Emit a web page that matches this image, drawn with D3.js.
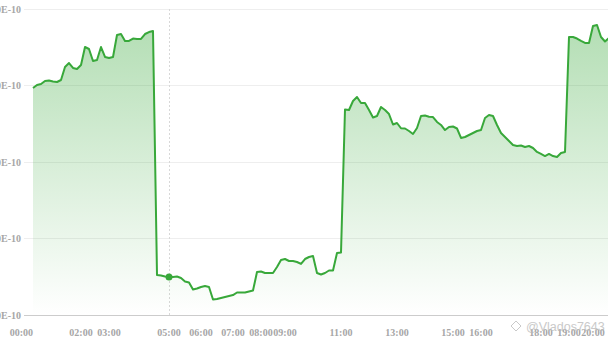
<!DOCTYPE html>
<html>
<head>
<meta charset="utf-8">
<script src="https://cdn.jsdelivr.net/npm/d3@7"></script>
<style>
  body { margin: 0; background: #fff; }
  svg { display: block; }
</style>
</head>
<body>
<svg id="chart" width="608" height="342"></svg>
<script>
// values in units of 1E-10, one sample per category
const values = [
  1.2967, 1.3007, 1.3020, 1.3059, 1.3065, 1.3052, 1.3046, 1.3072, 1.3242, 1.3294,
  1.3229, 1.3216, 1.3268, 1.3503, 1.3477, 1.3320, 1.3333, 1.3503, 1.3373, 1.3359,
  1.3373, 1.3660, 1.3673, 1.3582, 1.3582, 1.3614, 1.3608, 1.3608, 1.3673, 1.3699,
  1.3712, 1.0523, 1.0516, 1.0503, 1.0497, 1.0497, 1.0503, 1.0484, 1.0438, 1.0425,
  1.0333, 1.0346, 1.0366, 1.0379, 1.0366, 1.0203, 1.0209, 1.0222, 1.0235, 1.0248,
  1.0261, 1.0294, 1.0294, 1.0294, 1.0307, 1.0320, 1.0562, 1.0569, 1.0549, 1.0549,
  1.0549, 1.0627, 1.0719, 1.0732, 1.0706, 1.0706, 1.0693, 1.0667, 1.0732, 1.0758,
  1.0771, 1.0549, 1.0529, 1.0549, 1.0582, 1.0582, 1.0810, 1.0817, 1.2686, 1.2680,
  1.2797, 1.2850, 1.2771, 1.2771, 1.2680, 1.2582, 1.2601, 1.2719, 1.2680, 1.2627,
  1.2490, 1.2510, 1.2441, 1.2438, 1.2405, 1.2366, 1.2444, 1.2601, 1.2608, 1.2592,
  1.2588, 1.2523, 1.2484, 1.2418, 1.2458, 1.2464, 1.2438, 1.2314, 1.2327, 1.2353,
  1.2379, 1.2405, 1.2418, 1.2575, 1.2614, 1.2601, 1.2484, 1.2379, 1.2327, 1.2275,
  1.2222, 1.2209, 1.2216, 1.2196, 1.2209, 1.2183, 1.2131, 1.2105, 1.2078, 1.2105,
  1.2078, 1.2065, 1.2118, 1.2131, 1.3634, 1.3634, 1.3614, 1.3582, 1.3556, 1.3556,
  1.3778, 1.3791, 1.3634, 1.3575, 1.3621, 1.3647
];

// x axis labels and the sample they sit under
const tickLabels = ['00:00', '02:00', '03:00', '05:00', '06:00', '07:00', '08:00', '09:00',
  '11:00', '13:00', '15:00', '16:00', '18:00', '19:00', '20:00'];
const tickIndex = [0, 12, 19, 34, 42, 50, 57, 63, 77, 91, 105, 112, 127, 134, 140];

const yTicks = [1.0, 1.1, 1.2, 1.3, 1.4];
const hoverIndex = 34;

const svg = d3.select('#chart');
const green = '#38a83a';
const gridLeft = 24, gridRight = 608, plotTop = 9, plotBottom = 315;

const x = d3.scaleLinear().domain([0, values.length - 1]).range([33, 613]);
const y = d3.scaleLinear().domain([1.0, 1.4]).range([plotBottom, plotTop]);

// gradient for the area
const defs = svg.append('defs');
const grad = defs.append('linearGradient')
  .attr('id', 'areaGrad')
  .attr('gradientUnits', 'userSpaceOnUse')
  .attr('x1', 0).attr('x2', 0)
  .attr('y1', plotTop).attr('y2', plotBottom);
grad.append('stop').attr('offset', '0%').attr('stop-color', green).attr('stop-opacity', 0.4);
grad.append('stop').attr('offset', '100%').attr('stop-color', green).attr('stop-opacity', 0.0);

// horizontal grid lines + y labels
const yAxis = svg.append('g');
yAxis.selectAll('line').data(yTicks).join('line')
  .attr('x1', gridLeft).attr('x2', gridRight)
  .attr('y1', d => y(d)).attr('y2', d => y(d))
  .attr('stroke', d => d == 1.0 ? '#cccccc' : '#eeeeee')
  .attr('stroke-width', 1)
  .attr('shape-rendering', 'crispEdges');
yAxis.selectAll('text').data(yTicks).join('text')
  .attr('x', 21)
  .attr('y', d => y(d))
  .attr('dy', '0.35em')
  .attr('text-anchor', 'end')
  .attr('font-family', '"Liberation Serif", serif')
  .attr('font-weight', 'bold')
  .attr('font-size', 10)
  .attr('fill', '#a6a6a6')
  .text(d => d.toFixed(2) + 'E-10');

// hover pointer line
svg.append('line')
  .attr('x1', x(hoverIndex)).attr('x2', x(hoverIndex))
  .attr('y1', plotTop).attr('y2', plotBottom)
  .attr('stroke', '#d8d8d8')
  .attr('stroke-dasharray', '2,2')
  .attr('shape-rendering', 'crispEdges');

const area = d3.area()
  .x((d, i) => x(i))
  .y0(plotBottom)
  .y1(d => y(d));
const line = d3.line()
  .x((d, i) => x(i))
  .y(d => y(d));

svg.append('path')
  .datum(values)
  .attr('d', area)
  .attr('fill', 'url(#areaGrad)');

svg.append('path')
  .datum(values)
  .attr('d', line)
  .attr('fill', 'none')
  .attr('stroke', green)
  .attr('stroke-width', 2)
  .attr('stroke-linejoin', 'round');

svg.append('circle')
  .attr('cx', x(hoverIndex))
  .attr('cy', y(values[hoverIndex]))
  .attr('r', 3.5)
  .attr('fill', green);

// x labels
svg.append('g').selectAll('text').data(tickLabels).join('text')
  .attr('x', (d, i) => x(tickIndex[i]))
  .attr('y', 336)
  .attr('text-anchor', (d, i) => i == 0 ? 'end' : 'middle')
  .attr('font-family', '"Liberation Serif", serif')
  .attr('font-weight', 'bold')
  .attr('font-size', 10)
  .attr('fill', '#a6a6a6')
  .text(d => d);

// watermark
const wm = svg.append('g').attr('opacity', 0.75);
wm.append('path')
  .attr('d', 'M516,321 L521,326 L516,331 L511,326 Z')
  .attr('fill', 'none')
  .attr('stroke', '#b8b8b8')
  .attr('stroke-width', 1);
wm.append('text')
  .attr('x', 526).attr('y', 331)
  .attr('font-family', '"Liberation Sans", sans-serif')
  .attr('font-size', 12.5)
  .attr('fill', '#b8b8b8')
  .text('@Vlados7643');
</script>
</body>
</html>
